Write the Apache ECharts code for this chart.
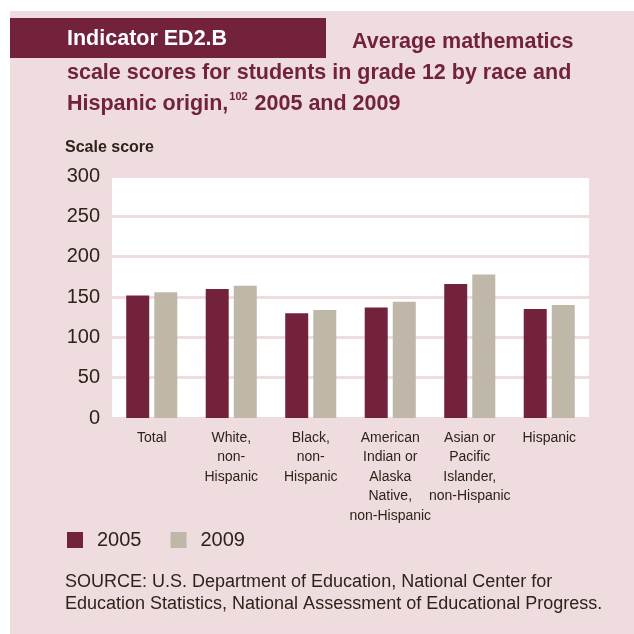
<!DOCTYPE html>
<html>
<head>
<meta charset="utf-8">
<script src="https://cdn.jsdelivr.net/npm/echarts@6/dist/echarts.min.js"></script>
<style>
  html, body { margin: 0; padding: 0; background: #ffffff; }
  #chart { width: 634px; height: 634px; }
</style>
</head>
<body>
<div id="chart"></div>
<script>
// Grade 12 average mathematics scale scores by race and Hispanic origin
const categories = [
  'Total',
  'White,\nnon-\nHispanic',
  'Black,\nnon-\nHispanic',
  'American\nIndian or\nAlaska\nNative,\nnon-Hispanic',
  'Asian or\nPacific\nIslander,\nnon-Hispanic',
  'Hispanic'
];
const years = ['2005', '2009'];
const scores2005 = [152, 160, 130, 137, 166, 135];
const scores2009 = [156, 164, 134, 144, 178, 140];
const yTicks = [0, 50, 100, 150, 200, 250, 300];

const MAROON = '#73223C';
const BEIGE = '#BFB8A8';
const PINK = '#EEDCDF';
const INK = '#2E2319';
const FONT = '"Liberation Sans", Arial, sans-serif';

const chart = echarts.init(document.getElementById('chart'), null, { renderer: 'canvas' });

chart.setOption({
  backgroundColor: '#ffffff',
  animation: false,
  textStyle: { fontFamily: FONT },
  grid: {
    left: 112, top: 176, width: 477, height: 242,
    show: true, backgroundColor: '#ffffff', borderWidth: 0,
    containLabel: false
  },
  graphic: [
    { type: 'rect', z: -10, silent: true,
      shape: { x: 10, y: 11, width: 624, height: 623 },
      style: { fill: PINK } },
    { type: 'rect', z: -5, silent: true,
      shape: { x: 10, y: 18, width: 316, height: 40 },
      style: { fill: MAROON } },
    { type: 'text', x: 67, y: 39, silent: true,
      style: { text: 'Indicator ED2.B', fill: '#ffffff', font: 'bold 21.5px ' + FONT,
               verticalAlign: 'middle' } },
    { type: 'text', x: 352, y: 42, silent: true,
      style: { text: 'Average mathematics', fill: MAROON, font: 'bold 21.5px ' + FONT,
               verticalAlign: 'middle' } },
    { type: 'text', x: 67, y: 73, silent: true,
      style: { text: 'scale scores for students in grade 12 by race and', fill: MAROON,
               font: 'bold 21.5px ' + FONT, verticalAlign: 'middle' } },
    { type: 'text', x: 67, y: 104, silent: true,
      style: {
        text: '{m|Hispanic origin,}{s|102}{m| 2005 and 2009}',
        verticalAlign: 'middle',
        rich: {
          m: { fill: MAROON, fontFamily: FONT, fontWeight: 'bold', fontSize: 21.5, lineHeight: 26 },
          s: { fill: MAROON, fontFamily: FONT, fontWeight: 'bold', fontSize: 11, lineHeight: 26,
               verticalAlign: 'top', padding: [0, 1, 7, 1] }
        }
      } },
    { type: 'text', x: 65, y: 148, silent: true,
      style: { text: 'Scale score', fill: INK, font: 'bold 16px ' + FONT,
               verticalAlign: 'middle' } },
    { type: 'text', x: 65, y: 593, silent: true,
      style: {
        text: 'SOURCE: U.S. Department of Education, National Center for\nEducation Statistics, National Assessment of Educational Progress.',
        fill: INK, font: '18px ' + FONT, lineHeight: 22, verticalAlign: 'middle'
      } }
  ],
  legend: {
    data: years,
    left: 67, top: 530, padding: 0,
    icon: 'rect', itemWidth: 16, itemHeight: 16, itemGap: 29,
    textStyle: { color: INK, fontSize: 20, fontFamily: FONT, padding: [0, 0, 0, 9] }
  },
  xAxis: {
    type: 'category',
    data: categories,
    axisLine: { show: false },
    axisTick: { show: false },
    axisLabel: {
      interval: 0, color: INK, fontSize: 14, lineHeight: 19.5, margin: 10,
      fontFamily: FONT, align: 'center'
    }
  },
  yAxis: {
    type: 'value',
    min: yTicks[0], max: yTicks[yTicks.length - 1], interval: 50,
    axisLine: { show: false },
    axisTick: { show: false },
    axisLabel: { color: INK, fontSize: 20, margin: 12, fontFamily: FONT },
    splitLine: { lineStyle: { color: PINK, width: 3 } }
  },
  series: [
    { name: years[0], type: 'bar', data: scores2005, barWidth: 23, barGap: '22%',
      itemStyle: { color: MAROON } },
    { name: years[1], type: 'bar', data: scores2009, barWidth: 23,
      itemStyle: { color: BEIGE } }
  ]
});
</script>
</body>
</html>
